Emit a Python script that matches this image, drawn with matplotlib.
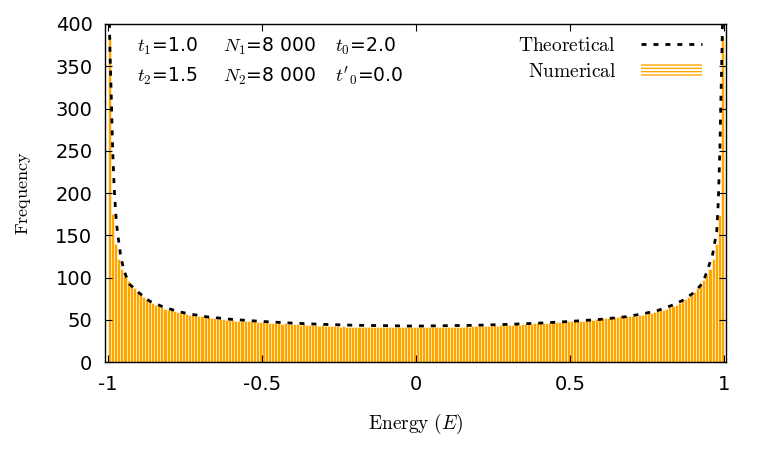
import numpy as np
import matplotlib
matplotlib.use('Agg')
import matplotlib.pyplot as plt
from matplotlib.patches import Patch
from matplotlib.lines import Line2D

plt.rcParams['mathtext.fontset'] = 'cm'
plt.rcParams['axes.unicode_minus'] = False
plt.rcParams['font.family'] = ['DejaVu Sans']

# histogram counts, 200 bins of width 0.01 between -1 and 1
counts = [
    385, 175, 140, 122, 110, 102, 96, 91, 87, 83,
    80, 77, 74, 72, 70, 68, 66, 65, 63, 62,
    61, 60, 59, 58, 58, 57, 56, 56, 55, 55,
    54, 53, 53, 52, 52, 51, 51, 51, 50, 50,
    50, 49, 49, 49, 48, 48, 48, 48, 47, 47,
    47, 47, 46, 46, 46, 46, 45, 46, 45, 45,
    45, 45, 44, 45, 44, 44, 44, 44, 43, 44,
    43, 43, 43, 43, 43, 42, 43, 42, 42, 42,
    42, 42, 42, 42, 41, 42, 42, 41, 42, 41,
    42, 41, 41, 42, 41, 41, 42, 41, 41, 42,
    41, 42, 41, 41, 42, 41, 42, 42, 41, 42,
    42, 42, 42, 42, 42, 42, 43, 42, 43, 43,
    43, 43, 43, 43, 43, 44, 43, 44, 44, 44,
    44, 44, 45, 44, 45, 45, 45, 45, 46, 46,
    46, 46, 46, 46, 47, 47, 47, 47, 48, 48,
    48, 48, 49, 49, 49, 50, 50, 50, 51, 51,
    52, 52, 52, 53, 53, 53, 54, 54, 54, 55,
    55, 55, 56, 56, 57, 58, 58, 59, 60, 61,
    62, 63, 65, 66, 68, 70, 72, 74, 77, 80,
    83, 87, 91, 97, 103, 110, 122, 140, 174, 385,
]

# theoretical curve
theo_E = [-0.997, -0.994, -0.99, -0.985, -0.98, -0.975, -0.97, -0.96, -0.95, -0.94,
          -0.93, -0.9, -0.865, -0.82, -0.77, -0.73, -0.68, -0.6, -0.5, -0.4,
          -0.3, -0.2, -0.1, 0.0, 0.1, 0.2, 0.3, 0.4, 0.5, 0.6,
          0.68, 0.737, 0.786, 0.831, 0.867, 0.906, 0.932, 0.948, 0.964, 0.977,
          0.982, 0.987, 0.991, 0.994, 0.997]
theo_F = [430, 370, 320, 250, 205, 175, 155, 128, 110, 100,
          92, 82, 72, 65, 59.5, 56.5, 53.5, 50.5, 48, 46,
          44.5, 43.5, 43, 42.5, 43, 43.5, 44.5, 46, 48, 50.5,
          53.5, 57, 61, 67, 73, 83, 94, 110, 128, 155,
          190, 250, 320, 370, 430]

xticks = [-1, -0.5, 0, 0.5, 1]
yticks = [0, 50, 100, 150, 200, 250, 300, 350, 400]

edges = np.linspace(-1, 1, len(counts) + 1)
centers = (edges[:-1] + edges[1:]) / 2

fig = plt.figure(figsize=(7.63, 4.58), dpi=100)
ax = fig.add_axes([0.1376, 0.2096, 0.8139, 0.738])

dash = (0, (1.8, 2.5))
ax.bar(centers, counts, width=0.01, color='#ffa500', edgecolor='#fff2d0', linewidth=0.5)
ax.plot(theo_E, theo_F, color='black', lw=2.0, linestyle=dash)

ax.set_xlim(-1.01, 1.007)
ax.set_ylim(0, 400)
ax.set_xticks(xticks)
ax.set_xticklabels(['%g' % v for v in xticks])
ax.set_yticks(yticks)
ax.tick_params(direction='in', top=True, right=True, length=5, labelsize=14, width=0.8, pad=9)
for s in ax.spines.values():
    s.set_linewidth(1.0)

ax.set_xlabel(r'$\mathrm{Energy}\ (E)$', fontsize=14, labelpad=13)
ax.set_ylabel(r'$\mathrm{Frequency}$', fontsize=13, labelpad=16)

fs = 13.5
row1, row2 = 0.935, 0.846
ax.text(0.0515, row1, r'$t_1$=1.0', transform=ax.transAxes, fontsize=fs, va='center')
ax.text(0.190, row1, r'$N_1$=8 000', transform=ax.transAxes, fontsize=fs, va='center')
ax.text(0.370, row1, r'$t_0$=2.0', transform=ax.transAxes, fontsize=fs, va='center')
ax.text(0.0515, row2, r'$t_2$=1.5', transform=ax.transAxes, fontsize=fs, va='center')
ax.text(0.190, row2, r'$N_2$=8 000', transform=ax.transAxes, fontsize=fs, va='center')
ax.text(0.370, row2, r"$t'_0$=0.0", transform=ax.transAxes, fontsize=fs, va='center')

handles = [Line2D([], [], color='black', lw=2.0, linestyle=dash),
           Patch(facecolor='white', edgecolor='#ffa500', hatch='-----', linewidth=0)]
leg = ax.legend(handles, [r'$\mathrm{Theoretical}$', r'$\mathrm{Numerical}$'],
                loc='upper right', bbox_to_anchor=(0.961, 0.964), frameon=False,
                markerfirst=False, fontsize=14, handlelength=3.1, handletextpad=1.3,
                labelspacing=0.34, borderpad=0, borderaxespad=0)

fig.savefig('out.png', dpi=100)
